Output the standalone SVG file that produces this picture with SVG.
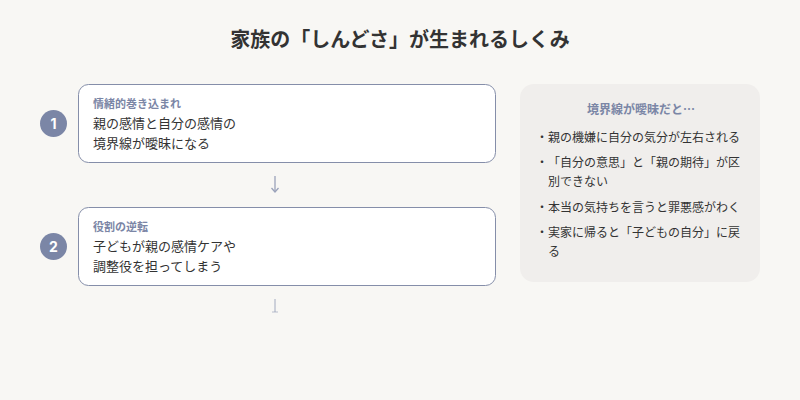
<svg xmlns="http://www.w3.org/2000/svg" width="800" height="400" viewBox="0 0 800 400">
<style>
text{font-family:"Noto Sans CJK JP","Noto Sans",sans-serif;}
.title{font-size:20px;font-weight:700;fill:#333333;text-anchor:middle;}
.box{fill:#ffffff;stroke:#858ea9;stroke-width:1;}
.num{fill:#7b86a6;}
.numt{font-size:14px;font-weight:700;fill:#ffffff;text-anchor:middle;font-family:"Inter","Noto Sans",sans-serif;}
.lab{font-size:11px;font-weight:700;fill:#7b86a6;}
.body{font-size:13px;fill:#333333;}
.panel{fill:#f0eeec;}
.ptitle{font-size:12px;font-weight:700;fill:#7b86a6;text-anchor:middle;}
.bul{font-size:12px;fill:#333333;}
.arr{stroke:#9aa2ba;stroke-width:1.3;fill:none;}
</style>
<defs>
<marker id="ah" markerWidth="8" markerHeight="8" refX="6" refY="4" orient="auto" markerUnits="userSpaceOnUse">
<path d="M2,0.5 L6,4 L2,7.5" fill="none" stroke="#9aa2ba" stroke-width="1.3"/>
</marker>
</defs>
<rect width="800" height="400" fill="#f8f7f4"/>
<text class="title" x="400" y="47">家族の「しんどさ」が生まれるしくみ</text>

<g id="connectors">
<line class="arr" x1="275" y1="176" x2="275" y2="192" marker-end="url(#ah)"/>
<line class="arr" x1="275" y1="299" x2="275" y2="312" opacity="0.7"/>
<line class="arr" x1="272" y1="312" x2="278" y2="312" opacity="0.5"/>
</g>

<g id="step1">
<circle class="num" cx="53.5" cy="123.5" r="13.5"/>
<text class="numt" x="53.5" y="128.5">1</text>
<rect class="box" x="78.5" y="84.5" width="417" height="78" rx="10"/>
<text class="lab" x="93" y="107.5">情緒的巻き込まれ</text>
<text class="body" x="93" y="128">親の感情と自分の感情の</text>
<text class="body" x="93" y="148">境界線が曖昧になる</text>
</g>

<g id="step2">
<circle class="num" cx="53.5" cy="246.5" r="13.5"/>
<text class="numt" x="53.5" y="251.5">2</text>
<rect class="box" x="78.5" y="207.5" width="417" height="78" rx="10"/>
<text class="lab" x="93" y="230.5">役割の逆転</text>
<text class="body" x="93" y="251">子どもが親の感情ケアや</text>
<text class="body" x="93" y="271">調整役を担ってしまう</text>
</g>

<g id="panel">
<rect class="panel" x="520" y="84" width="240" height="198" rx="14"/>
<text class="ptitle" x="641" y="114">境界線が曖昧だと…</text>
<text class="bul" x="536" y="142">・</text>
<text class="bul" x="548" y="142">親の機嫌に自分の気分が左右される</text>
<text class="bul" x="536" y="167">・</text>
<text class="bul" x="548" y="167">「自分の意思」と「親の期待」が区</text>
<text class="bul" x="548" y="186">別できない</text>
<text class="bul" x="536" y="212">・</text>
<text class="bul" x="548" y="212">本当の気持ちを言うと罪悪感がわく</text>
<text class="bul" x="536" y="237">・</text>
<text class="bul" x="548" y="237">実家に帰ると「子どもの自分」に戻</text>
<text class="bul" x="548" y="256">る</text>
</g>
</svg>
